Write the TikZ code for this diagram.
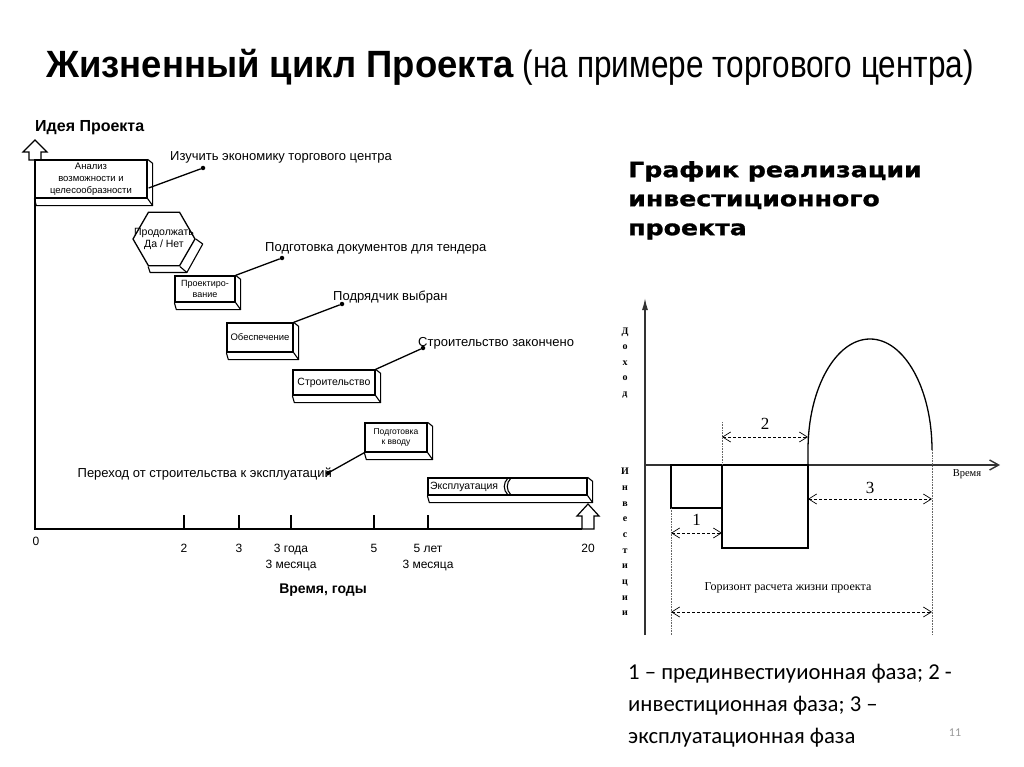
\documentclass[tikz,border=0pt]{standalone}
\usepackage{fontspec}
\setmainfont{Liberation Sans}
\newfontfamily\titlefont[FakeStretch=0.83]{Liberation Sans}
\newfontfamily\titlebold[FakeStretch=0.96]{Liberation Sans Bold}
\newfontfamily\heavyfont[FakeStretch=1.2, FakeBold=1.2]{DejaVu Sans Bold}
\newfontfamily\notefont{Carlito}
\newfontfamily\graphfont{Liberation Serif}
\usetikzlibrary{arrows.meta, shapes.geometric}
\usetikzlibrary{positioning}

% объём блока (нижняя и правая грань)
\newcommand{\boxdepth}[1]{%
  \draw[line width=1.1pt, line join=round] (#1.north east) -- ++(5,4)
    -- ([shift={(5,7)}]#1.south east) -- ([shift={(2,7)}]#1.south west) -- (#1.south west);
  \draw[line width=1.1pt] (#1.south east) -- ++(5,7);}

\begin{document}
\begin{tikzpicture}[x=1pt, y=-1pt,
    block/.style={draw, fill=white, line width=1.3pt, inner sep=0pt, align=center},
    hexa/.style={regular polygon, regular polygon sides=6, draw, fill=white, line width=1.3pt,
      inner sep=-12pt, minimum size=62pt, align=center},
    dot/.style={circle, fill, inner sep=0pt, minimum size=4.5pt},
    note/.style={font=\fontsize{13}{13}\selectfont, inner sep=0pt},
    tick/.style={font=\fontsize{12}{16}\selectfont, inner sep=0pt, align=center},
    dim/.style={densely dashed, line width=.7pt,
      {Straight Barb[length=8pt,width=10pt]}-{Straight Barb[length=8pt,width=10pt]}},
    guide/.style={densely dotted, line width=.6pt, black!60},
    num/.style={font=\graphfont\fontsize{17}{17}\selectfont, inner sep=0pt}]
  \useasboundingbox (0,0) rectangle (1024,767);

  % заголовок
  \node[anchor=west, inner sep=0pt, font=\titlefont\fontsize{38}{38}\selectfont] (title) at (46,67)
    {{\titlebold Жизненный цикл Проекта} (на примере торгового центра)};

  % ---------- жизненный цикл ----------
  \node[anchor=west, inner sep=0pt, font=\bfseries\fontsize{16}{16}\selectfont] (idea) at (35,128) {Идея Проекта};
  \draw[line width=1.5pt] (35,160) -- (35,529) -- (582,529);
  \draw[line width=1.2pt, fill=white] (35,140) -- (47,152) -- (41,152) -- (41,160) -- (29,160)
    -- (29,152) -- (23,152) -- cycle;
  \draw[line width=1.2pt, fill=white] (588,504) -- (599,516) -- (594,516) -- (594,529) -- (582,529)
    -- (582,516) -- (577,516) -- cycle;
  % шкала
  \foreach \x in {184,239,291,374,428}
    \draw[line width=1.3pt] (\x,515) -- (\x,529);
  \node[tick] (t0) at (36,541) {0};
  \foreach \x/\t in {184/2, 239/3, 291/{3 года\\3 месяца}, 374/5, 428/{5 лет\\3 месяца}, 588/20}
    \node[tick, anchor=north] (t\x) at (\x,544) {\t};
  \node[inner sep=0pt, font=\bfseries\fontsize{14}{14}\selectfont] (time) at (323,590) {Время, годы};

  % блоки
  \node[block, minimum width=112pt, minimum height=38pt, font=\fontsize{9.5}{12}\selectfont] (anal) at (91,179)
    {Анализ\\возможности и\\целесообразности};
  \boxdepth{anal}
  \node[hexa, font=\fontsize{10.5}{12}\selectfont] (cont) at (164,239) {Продолжать\\Да / Нет};
  \draw[line width=1.1pt, line join=round] (cont.0) -- ++(7,5) -- ([shift={(7,6)}]cont.-60)
    -- ([shift={(2,6)}]cont.-120) -- (cont.-120);
  \draw[line width=1.1pt] (cont.-60) -- ++(7,6);
  \node[block, minimum width=60pt, minimum height=26pt, font=\fontsize{9}{11}\selectfont] (proj) at (205,289)
    {Проектиро-\\вание};
  \boxdepth{proj}
  \node[block, minimum width=66pt, minimum height=29pt, font=\fontsize{9.5}{11}\selectfont] (supp) at (260,337.5)
    {Обеспечение};
  \boxdepth{supp}
  \node[block, minimum width=82pt, minimum height=25pt, font=\fontsize{10.5}{11}\selectfont] (build) at (334,382.5)
    {Строительство};
  \boxdepth{build}
  \node[block, minimum width=62pt, minimum height=29pt, font=\fontsize{8.5}{10}\selectfont] (prep) at (396,437.5)
    {Подготовка\\к вводу};
  \boxdepth{prep}
  \node[block, minimum width=159pt, minimum height=17pt, text width=155pt, align=left,
    font=\fontsize{10.5}{11}\selectfont] (oper) at (507.5,486.5) {Эксплуатация};
  \boxdepth{oper}
  \draw[line width=1.1pt] (508,478) .. controls (503,483) and (503,490) .. (508,495);
  \draw[line width=1.1pt] (511,478) .. controls (506,483) and (506,490) .. (511,495);

  % вехи
  \node[dot] (d1) at (203,168) {};
  \node[note, anchor=west] (m1) at (170,157) {Изучить экономику торгового центра};
  \draw[line width=1.3pt] ([shift={(1,9)}]anal.east) -- (d1);
  \node[dot] (d2) at (282,258) {};
  \node[note, anchor=west] (m2) at (265,248) {Подготовка документов для тендера};
  \draw[line width=1.3pt] (proj.north east) -- (d2);
  \node[dot] (d3) at (342,304) {};
  \node[note, anchor=west] (m3) at (333,297) {Подрядчик выбран};
  \draw[line width=1.3pt] (supp.north east) -- (d3);
  \node[dot] (d4) at (423,348) {};
  \node[note, anchor=west] (m4) at (418,343) {Строительство закончено};
  \draw[line width=1.3pt] (build.north east) -- (d4);
  \node[dot] (d5) at (328,473) {};
  \node[note, anchor=east] (m5) at (332,474) {Переход от строительства к эксплуатаций};
  \draw[line width=1.3pt] (prep.south west) -- (d5);

  % ---------- график реализации ----------
  \node[anchor=north west, align=left, inner sep=0pt,
    font=\heavyfont\fontsize{21}{29}\selectfont] (head) at (628,161)
    {График реализации\\инвестиционного\\проекта};
  % оси
  \coordinate (o) at (645,465);
  \draw[line width=1.4pt, black!80, -{Latex[length=12pt,width=6pt]}] (645,635) -- (645,298);
  \draw[line width=1.4pt, black!80, -{Straight Barb[length=9pt,width=10pt]}] (o) -- (1000,465);
  \node[font=\graphfont\fontsize{10.5}{10.5}\selectfont, inner sep=0pt] (tax) at (967,474) {Время};
  \node[font=\graphfont\bfseries\fontsize{10}{15.5}\selectfont, align=center, inner sep=0pt] (inc) at (625,363)
    {Д\\о\\х\\о\\д};
  \node[font=\graphfont\bfseries\fontsize{10}{15.7}\selectfont, align=center, inner sep=0pt] (inv) at (625,542)
    {И\\н\\в\\е\\с\\т\\и\\ц\\и\\и};
  % фазы
  \draw[line width=1.3pt] (671,465) rectangle (722,508);
  \draw[line width=1.3pt] (722,465) rectangle (808,548);
  \draw[line width=1.3pt] (808,465) -- (808,450) arc[start angle=180, end angle=360, x radius=62, y radius=111];
  \draw[guide] (722,422) -- (722,465);
  \draw[guide] (671,508) -- (671,635);
  \draw[guide] (932,450) -- (932,635);
  % размеры
  \coordinate (a1) at (671,533);
  \coordinate (b1) at (722,533);
  \coordinate (a2) at (722,437);
  \coordinate (b2) at (808,437);
  \coordinate (a3) at (808,499);
  \coordinate (b3) at (932,499);
  \coordinate (a4) at (671,612);
  \coordinate (b4) at (932,612);
  \draw[dim] (a1) -- (b1) node[midway, above=7pt, num] (n1) {1};
  \draw[dim] (a2) -- (b2) node[midway, above=7pt, num] (n2) {2};
  \draw[dim] (a3) -- (b3) node[midway, above=5pt, num] (n3) {3};
  \draw[dim] (a4) -- (b4);
  \node[font=\graphfont\fontsize{12}{12}\selectfont, inner sep=0pt] (hor) at (788,588)
    {Горизонт расчета жизни проекта};

  % подпись
  \node[anchor=north west, align=left, inner sep=0pt, font=\notefont\fontsize{22.7}{32}\selectfont] (legend)
    at (628,664) {1 – прединвестиуионная фаза; 2 -\\инвестиционная фаза; 3 –\\эксплуатационная фаза};
  \node[font=\notefont\fontsize{12}{12}\selectfont, text=black!40, inner sep=0pt] (page) at (955,733) {11};
\end{tikzpicture}
\end{document}
